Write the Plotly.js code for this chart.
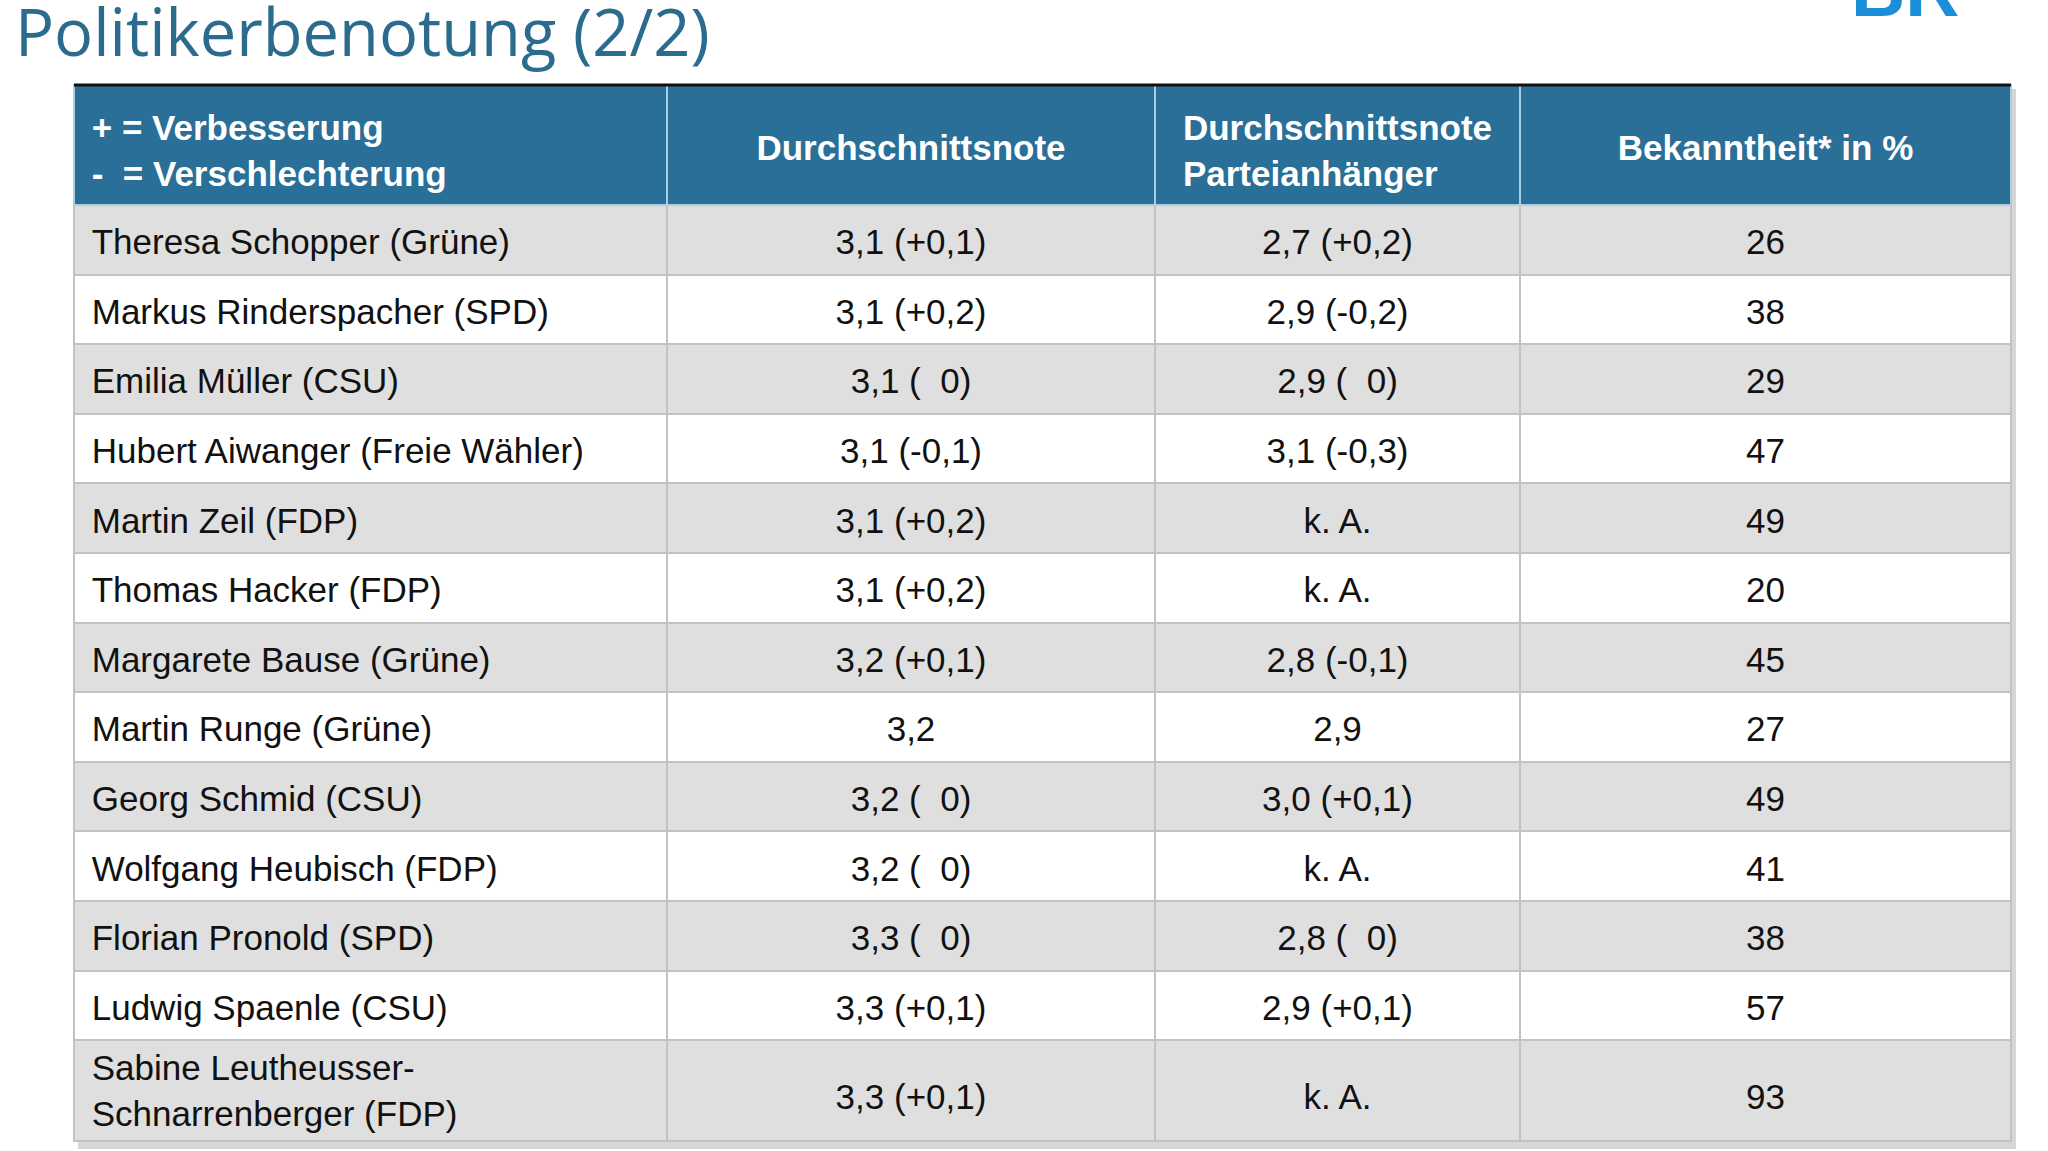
<!DOCTYPE html>
<html>
<head>
<meta charset="utf-8">
<script src="https://cdn.plot.ly/plotly-3.0.1.min.js"></script>
<style>
  body { margin: 0; background: #fff; }
  #chart { width: 2048px; height: 1151px; }
</style>
</head>
<body>
<div id="chart"></div>
<script>
// Spaltenköpfe
const kopf = [
    '+ = Verbesserung<br>-\u00a0\u00a0= Verschlechterung',
    'Durchschnittsnote',
    'Durchschnittsnote<br>Parteianhänger',
    'Bekanntheit* in %'
];

// Politiker
const namen = [
    'Theresa Schopper (Grüne)',
    'Markus Rinderspacher (SPD)',
    'Emilia Müller (CSU)',
    'Hubert Aiwanger (Freie Wähler)',
    'Martin Zeil (FDP)',
    'Thomas Hacker (FDP)',
    'Margarete Bause (Grüne)',
    'Martin Runge (Grüne)',
    'Georg Schmid (CSU)',
    'Wolfgang Heubisch (FDP)',
    'Florian Pronold (SPD)',
    'Ludwig Spaenle (CSU)',
    'Sabine Leutheusser-<br>Schnarrenberger (FDP)'
];

// Durchschnittsnote (Veränderung)
const noteGesamt = [
    '3,1 (+0,1)', '3,1 (+0,2)', '3,1 (\u00a0\u00a00)', '3,1 (-0,1)', '3,1 (+0,2)',
    '3,1 (+0,2)', '3,2 (+0,1)', '3,2', '3,2 (\u00a0\u00a00)', '3,2 (\u00a0\u00a00)',
    '3,3 (\u00a0\u00a00)', '3,3 (+0,1)', '3,3 (+0,1)'
];

// Durchschnittsnote Parteianhänger
const noteAnhaenger = [
    '2,7 (+0,2)', '2,9 (-0,2)', '2,9 (\u00a0\u00a00)', '3,1 (-0,3)', 'k. A.',
    'k. A.', '2,8 (-0,1)', '2,9', '3,0 (+0,1)', 'k. A.',
    '2,8 (\u00a0\u00a00)', '2,9 (+0,1)', 'k. A.'
];

// Bekanntheit in %
const bekanntheit = [26, 38, 29, 47, 49, 20, 45, 27, 49, 41, 38, 57, 93];

const W = 2048, H = 1151;
const FONT = 'Arial, Liberation Sans, sans-serif';
const KLAR = 'rgba(0,0,0,0)';
const GRAU = '#dfdfdf';
const WEISS = '#ffffff';
const BLAU = '#2a6f97';
const SCHRIFT = '#111111';

// Pixel von oben -> paper-Koordinate
const py = p => 1 - p / H;
const tabTop = 85;
const xDom = [74 / W, 2011 / W];
const spalten = [593, 488, 365, 491];
const ausrichtung = ['left', 'center', 'center', 'center'];
const zeilenHoehe = 69.6;

const einruecken = s => '\u00a0' + s.split('<br>').join('<br>\u00a0');
const kopfText = kopf.map((k, i) => '<b>' + (i === 0 ? einruecken(k) : k) + '</b>');
const namenText = namen.map(einruecken);
const letzte = namen.length - 1;
const spaltenWerte = [namenText, noteGesamt, noteAnhaenger, bekanntheit];

const zeilenFarben = namen.map((_, i) => i % 2 === 0 ? GRAU : WEISS);

// plotly-Tabellen setzen den Text oben in die Zelle: darum drei Ebenen,
// der Text wird je nach Zeilenzahl nach unten versetzt, damit er mittig sitzt.

// Ebene 1: Flächen, Linien, dazu der Name in der zweizeiligen letzten Zeile
const rahmen = {
    type: 'table',
    domain: { x: xDom, y: [0, py(tabTop)] },
    columnwidth: spalten,
    header: {
        values: kopf.map(() => ''),
        height: 120,
        fill: { color: BLAU },
        line: { color: '#a9cfe2', width: 2 }
    },
    cells: {
        values: spaltenWerte.map((sp, j) => sp.map((v, i) => (i === letzte && j === 0) ? v : '')),
        align: ausrichtung,
        height: zeilenHoehe,
        fill: { color: spalten.map(() => zeilenFarben) },
        line: { color: '#c2c2c2', width: 2 },
        font: { family: FONT, size: 35, color: SCHRIFT }
    }
};

// Ebene 2: einzeilige Zellen und zweizeilige Spaltenköpfe
const versatz = 15;
const text = {
    type: 'table',
    domain: { x: xDom, y: [0, py(tabTop + versatz)] },
    columnwidth: spalten,
    header: {
        values: kopfText.map((k, i) => (i === 0 || i === 2) ? k : ''),
        align: ausrichtung,
        height: 120,
        fill: { color: KLAR },
        line: { color: KLAR, width: 0 },
        font: { family: FONT, size: 35, color: '#ffffff' }
    },
    cells: {
        values: spaltenWerte.map(sp => sp.map((v, i) => i === letzte ? '' : v)),
        align: ausrichtung,
        height: zeilenHoehe,
        fill: { color: KLAR },
        line: { color: KLAR, width: 0 },
        font: { family: FONT, size: 35, color: SCHRIFT }
    }
};

// Ebene 3: einzeilige Spaltenköpfe und Werte der hohen letzten Zeile
const versatz2 = 35;
const mitte = {
    type: 'table',
    domain: { x: xDom, y: [0, py(tabTop + versatz2)] },
    columnwidth: spalten,
    header: {
        values: kopfText.map((k, i) => (i === 1 || i === 3) ? k : ''),
        align: ausrichtung,
        height: 120,
        fill: { color: KLAR },
        line: { color: KLAR, width: 0 },
        font: { family: FONT, size: 35, color: '#ffffff' }
    },
    cells: {
        values: spaltenWerte.map((sp, j) => sp.map((v, i) => (i === letzte && j > 0) ? v : '')),
        align: ausrichtung,
        height: zeilenHoehe,
        fill: { color: KLAR },
        line: { color: KLAR, width: 0 },
        font: { family: FONT, size: 35, color: SCHRIFT }
    }
};

const layout = {
    width: W,
    height: H,
    margin: { l: 0, r: 0, t: 0, b: 0 },
    paper_bgcolor: '#ffffff',
    showlegend: false,
    annotations: [
        {
            text: 'Politikerbenotung (2/2)',
            xref: 'paper', yref: 'paper',
            x: 13 / W, y: 1, xanchor: 'left', yanchor: 'top',
            yshift: 15,
            showarrow: false,
            font: { family: 'Open Sans, sans-serif', size: 65, color: '#2b6b8d' }
        },
        {
            text: '<b>BR</b>',
            xref: 'paper', yref: 'paper',
            x: 1905 / W, y: 1, xanchor: 'center', yanchor: 'bottom',
            yshift: -34,
            showarrow: false,
            font: { family: FONT, size: 75, color: '#1a8ed8' }
        }
    ],
    shapes: [
        {
            // leichter Schatten rechts und unten
            type: 'rect', xref: 'paper', yref: 'paper', layer: 'below',
            x0: 78 / W, x1: 2016 / W, y0: py(1149), y1: py(tabTop + 4),
            fillcolor: '#d6d6d6', line: { width: 0 }
        },
        {
            type: 'line', xref: 'paper', yref: 'paper',
            x0: xDom[0], x1: xDom[1], y0: py(tabTop), y1: py(tabTop),
            line: { color: '#111111', width: 3 }
        }
    ]
};

Plotly.newPlot('chart', [rahmen, text, mitte], layout, { displayModeBar: false });
</script>
</body>
</html>
